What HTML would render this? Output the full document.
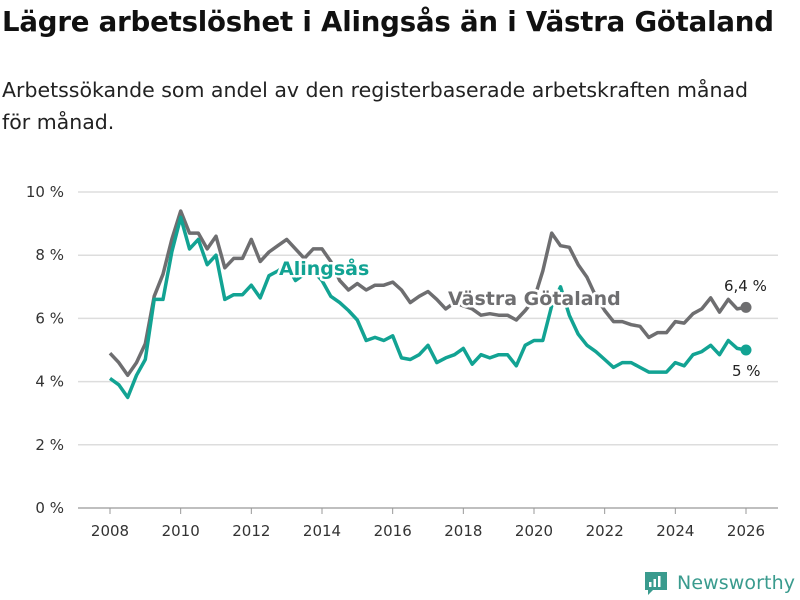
<!DOCTYPE html>
<html><head><meta charset="utf-8">
<style>
body{margin:0;background:#fff;font-family:"DejaVu Sans","Liberation Sans",sans-serif;}
#wrap{position:relative;width:800px;height:600px;overflow:hidden;}
h1{position:absolute;left:2px;top:5px;margin:0;font-size:27.6px;font-weight:bold;color:#111;letter-spacing:-0.2px;white-space:nowrap}
p.sub{position:absolute;left:2px;top:74px;margin:0;font-size:20.5px;color:#222;line-height:32px;width:776px}
svg{position:absolute;left:0;top:0}
</style></head><body>
<div id="wrap">
<h1>Lägre arbetslöshet i Alingsås än i Västra Götaland</h1>
<p class="sub">Arbetssökande som andel av den registerbaserade arbetskraften månad<br>för månad.</p>
<svg id="chart" width="800" height="600"></svg>
</div>
<script>
const dates=[2008,2008.25,2008.5,2008.75,2009,2009.25,2009.5,2009.75,2010,2010.25,2010.5,2010.75,2011,2011.25,2011.5,2011.75,2012,2012.25,2012.5,2012.75,2013,2013.25,2013.5,2013.75,2014,2014.25,2014.5,2014.75,2015,2015.25,2015.5,2015.75,2016,2016.25,2016.5,2016.75,2017,2017.25,2017.5,2017.75,2018,2018.25,2018.5,2018.75,2019,2019.25,2019.5,2019.75,2020,2020.25,2020.5,2020.75,2021,2021.25,2021.5,2021.75,2022,2022.25,2022.5,2022.75,2023,2023.25,2023.5,2023.75,2024,2024.25,2024.5,2024.75,2025,2025.25,2025.5,2025.75,2026];
const vastra=[4.9,4.6,4.2,4.6,5.2,6.7,7.4,8.5,9.4,8.7,8.7,8.2,8.6,7.6,7.9,7.9,8.5,7.8,8.1,8.3,8.5,8.2,7.9,8.2,8.2,7.8,7.2,6.9,7.1,6.9,7.05,7.05,7.15,6.9,6.5,6.7,6.85,6.6,6.3,6.5,6.4,6.3,6.1,6.15,6.1,6.1,5.95,6.25,6.6,7.5,8.7,8.3,8.25,7.7,7.3,6.7,6.25,5.9,5.9,5.8,5.75,5.4,5.55,5.55,5.9,5.85,6.15,6.3,6.65,6.2,6.6,6.3,6.35];
const alingsas=[4.1,3.9,3.5,4.2,4.7,6.6,6.6,8.1,9.2,8.2,8.5,7.7,8.0,6.6,6.75,6.75,7.05,6.65,7.35,7.5,7.7,7.2,7.4,7.5,7.2,6.7,6.5,6.25,5.95,5.3,5.4,5.3,5.45,4.75,4.7,4.85,5.15,4.6,4.75,4.85,5.05,4.55,4.85,4.75,4.85,4.85,4.5,5.15,5.3,5.3,6.4,7.0,6.1,5.5,5.15,4.95,4.7,4.45,4.6,4.6,4.45,4.3,4.3,4.3,4.6,4.5,4.85,4.95,5.15,4.85,5.3,5.05,5.0];
const yTicks=[0,2,4,6,8,10];
const xTicks=[2008,2010,2012,2014,2016,2018,2020,2022,2024,2026];
const endLabels=["6,4 %","5 %"];
const NS="http://www.w3.org/2000/svg";
const svg=document.getElementById('chart');
const x=v=>110+(v-2008)*(636/18);
const y=v=>508-v*31.6;
function mk(t,a,p){const e=document.createElementNS(NS,t);for(const k in a)e.setAttribute(k,a[k]);(p||svg).appendChild(e);return e;}
yTicks.forEach(t=>{
 const l=mk('line',{x1:78,x2:778,y1:y(t),y2:y(t),stroke:t===0?'#999':'#ddd','stroke-width':t===0?1.2:1.5});
 
 
 const tx=mk('text',{x:64,y:y(t)+5,'text-anchor':'end','font-size':15,fill:'#333'});
 tx.textContent=t+' %';
 
 
});
xTicks.forEach(t=>{
 const l=mk('line',{x1:x(t),x2:x(t),y1:508,y2:514,stroke:'#999'});
 
 
 const tx=mk('text',{x:x(t),y:536,'text-anchor':'middle','font-size':15,fill:'#333'});
 tx.textContent=t;
 
 
});
function line(vals,col,name){
 const d=vals.map((v,i)=>(i?'L':'M')+x(dates[i]).toFixed(1)+','+y(v).toFixed(1)).join('');
 const p=mk('path',{d:d,fill:'none',stroke:col,'stroke-width':3.5,'stroke-linejoin':'round'});
 
 
 const n=vals.length-1;
 const c=mk('circle',{cx:x(dates[n]),cy:y(vals[n]),r:5.5,fill:col});
 
 
}
line(vastra,'#6e6e70','vastra-gotaland');
line(alingsas,'#12a393','alingsas');
function lab(txt,xx,yy,col,name,size,bold){
 const t=mk('text',{x:xx,y:yy,'font-size':size,fill:col,'font-weight':bold?'bold':'normal',stroke:'#fff','stroke-width':bold?5:0,'paint-order':'stroke','stroke-linejoin':'round'});
 t.textContent=txt;
 
 
}
lab('Alingsås',279,275,'#12a393','alingsas-label',19,true);
lab('Västra Götaland',448,305,'#6e6e70','vastra-gotaland-label',19,true);
lab(endLabels[0],724,291,'#222','vastra-end-label',15,false);
lab(endLabels[1],732,376,'#222','alingsas-end-label',15,false);
const g=mk('g',{});


mk('path',{d:'M645 572h22v18h-14l-5 5v-5h-3z',fill:'#3a9b8e'},g);
mk('rect',{x:649,y:582,width:2.5,height:5,fill:'#fff'},g);
mk('rect',{x:653.5,y:579,width:2.5,height:8,fill:'#fff'},g);
mk('rect',{x:658,y:576,width:2.5,height:11,fill:'#fff'},g);
const lt=mk('text',{x:677,y:589,'font-size':19,fill:'#3a9b8e',textLength:118},g);
lt.textContent='Newsworthy';
</script>
</body></html>
